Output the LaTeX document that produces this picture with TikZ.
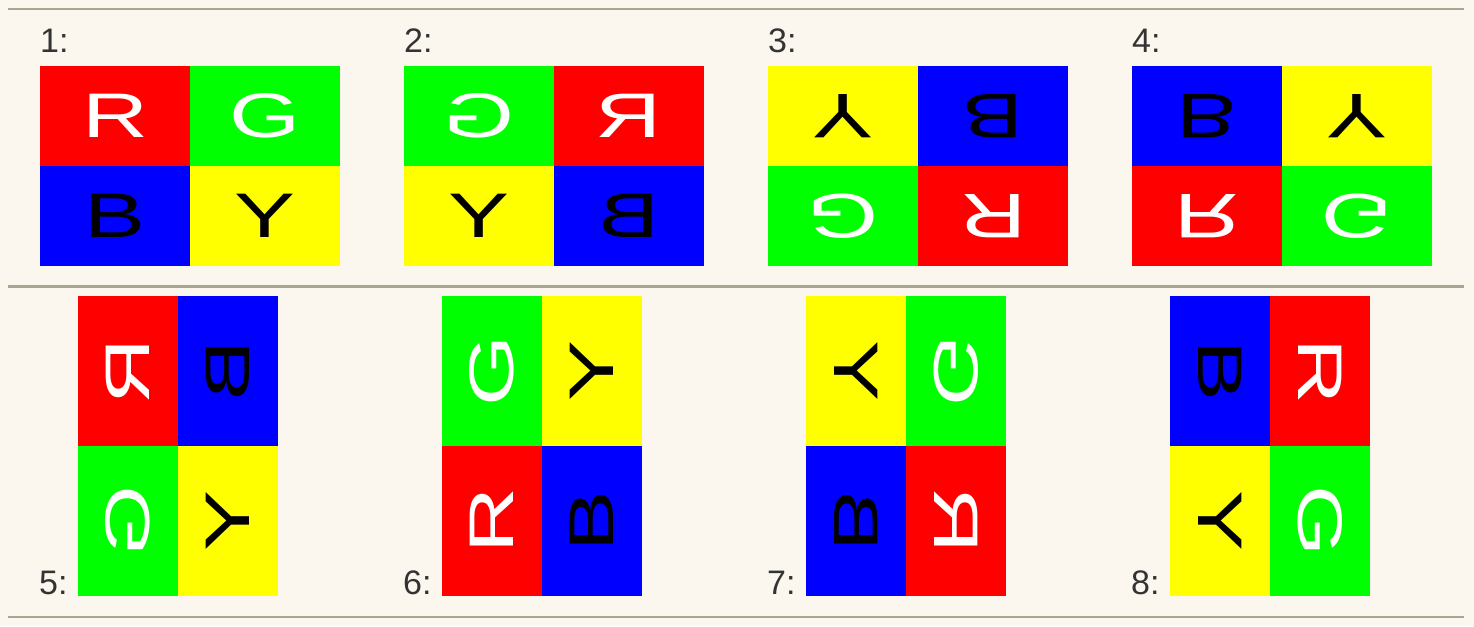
\documentclass[tikz,border=0pt]{standalone}
\usepackage{fontspec}
\setmainfont{Liberation Sans}
\newfontfamily\letterfont{Liberation Sans}
\definecolor{bgcream}{HTML}{FBF7EF}
\definecolor{rulecol}{HTML}{A8A591}
\definecolor{labelcol}{HTML}{333333}
\definecolor{pR}{HTML}{FF0000}
\definecolor{pG}{HTML}{00FF00}
\definecolor{pB}{HTML}{0000FF}
\definecolor{pY}{HTML}{FFFF00}
\tikzset{
  letternode/.style={transform shape, inner sep=0pt, font=\letterfont\fontsize{63}{63}\selectfont},
  numlabel/.style={inner sep=0pt, text=labelcol, font=\fontsize{34}{34}\selectfont},
  sepline/.style={draw=rulecol, line width=2.2pt}
}
\newcommand{\basepanel}[1]{%
  \fill[pR] (-150,0) rectangle (0,100);
  \fill[pG] (0,0) rectangle (150,100);
  \fill[pB] (-150,-100) rectangle (0,0);
  \fill[pY] (0,-100) rectangle (150,0);
  \node[letternode, text=white] (#1R) at (-75,50) {\scalebox{1.45}[1]{R}};
  \node[letternode, text=white] (#1G) at (75,50) {\scalebox{1.45}[1]{G}};
  \node[letternode, text=black] (#1B) at (-75,-50) {\scalebox{1.45}[1]{B}};
  \node[letternode, text=black] (#1Y) at (75,-50) {\scalebox{1.45}[1]{Y}};
}
\begin{document}
\begin{tikzpicture}[x=1pt,y=1pt]
\useasboundingbox (0,0) rectangle (1474,626);
\fill[bgcream] (0,0) rectangle (1474,626);
% separator lines
\coordinate (t0) at (8,617);   \coordinate (t1) at (1464,617);
\coordinate (m0) at (8,339.5); \coordinate (m1) at (1464,339.5);
\coordinate (b0) at (8,9);     \coordinate (b1) at (1464,9);
\draw[sepline] (t0) -- (t1);
\draw[sepline] (m0) -- (m1);
\draw[sepline] (b0) -- (b1);
% row 1
\begin{scope}[shift={(190,460)}]\basepanel{p1}\end{scope}
\begin{scope}[shift={(554,460)}, xscale=-1]\basepanel{p2}\end{scope}
\begin{scope}[shift={(918,460)}, rotate=180]\basepanel{p3}\end{scope}
\begin{scope}[shift={(1282,460)}, yscale=-1]\basepanel{p4}\end{scope}
% row 2
\begin{scope}[shift={(178,180)}, cm={0,-1,-1,0,(0,0)}]\basepanel{p5}\end{scope}
\begin{scope}[shift={(542,180)}, rotate=90]\basepanel{p6}\end{scope}
\begin{scope}[shift={(906,180)}, cm={0,1,1,0,(0,0)}]\basepanel{p7}\end{scope}
\begin{scope}[shift={(1270,180)}, rotate=-90]\basepanel{p8}\end{scope}
% labels
\node[numlabel, anchor=base west] (l1) at (40,573) {1:};
\node[numlabel, anchor=base west] (l2) at (404,573) {2:};
\node[numlabel, anchor=base west] (l3) at (768,573) {3:};
\node[numlabel, anchor=base west] (l4) at (1132,573) {4:};
\node[numlabel, anchor=base west] (l5) at (39,31) {5:};
\node[numlabel, anchor=base west] (l6) at (403,31) {6:};
\node[numlabel, anchor=base west] (l7) at (767,31) {7:};
\node[numlabel, anchor=base west] (l8) at (1131,31) {8:};
\end{tikzpicture}
\end{document}
